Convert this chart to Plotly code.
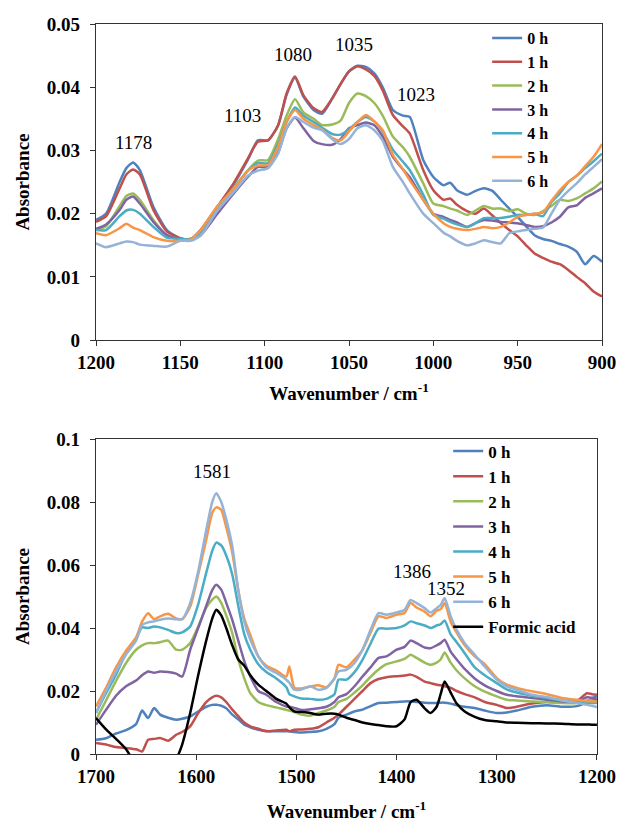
import plotly.graph_objects as go

# ---------------- Top panel data (900-1200 cm-1) ----------------
wn_top = [1200, 1194, 1186, 1182, 1178, 1174, 1166, 1158, 1150, 1144, 1138, 1128, 1118, 1110,
          1104, 1098, 1092, 1087, 1082, 1077, 1071, 1066, 1060, 1055, 1050, 1045, 1040, 1035,
          1030, 1024, 1018, 1014, 1006, 1000, 994, 990, 986, 980, 975, 970, 965, 960, 955, 950,
          945, 940, 935, 930, 925, 920, 915, 910, 905, 900]

top_0h = [0.0190, 0.0200, 0.0250, 0.0272, 0.0281, 0.0269, 0.0211, 0.0174, 0.0161, 0.0159, 0.0174,
          0.0211, 0.0248, 0.0285, 0.0316, 0.0316, 0.0340, 0.0388, 0.0415, 0.0385, 0.0364, 0.0358,
          0.0382, 0.0405, 0.0425, 0.0434, 0.0432, 0.0422, 0.0400, 0.0364, 0.0355, 0.0353, 0.0285,
          0.0258, 0.0245, 0.0249, 0.0237, 0.0230, 0.0236, 0.0240, 0.0236, 0.0222, 0.0208, 0.0195,
          0.0180, 0.0166, 0.0160, 0.0157, 0.0152, 0.0148, 0.0140, 0.0120, 0.0133, 0.0124]
top_1h = [0.0187, 0.0196, 0.0240, 0.0262, 0.0270, 0.0262, 0.0206, 0.0172, 0.0161, 0.0159, 0.0174,
          0.0211, 0.0250, 0.0287, 0.0314, 0.0316, 0.0340, 0.0390, 0.0417, 0.0387, 0.0367, 0.0361,
          0.0382, 0.0405, 0.0425, 0.0433, 0.0428, 0.0418, 0.0395, 0.0356, 0.0338, 0.0327, 0.0269,
          0.0237, 0.0222, 0.0224, 0.0214, 0.0204, 0.0200, 0.0208, 0.0197, 0.0185, 0.0174, 0.0164,
          0.0150, 0.0137, 0.0130, 0.0124, 0.0120, 0.0111, 0.0100, 0.0090, 0.0077, 0.0069]
top_2h = [0.0174, 0.0180, 0.0212, 0.0228, 0.0232, 0.0222, 0.0190, 0.0166, 0.0160, 0.0160, 0.0169,
          0.0208, 0.0242, 0.0268, 0.0284, 0.0285, 0.0318, 0.0355, 0.0381, 0.0360, 0.0350, 0.0340,
          0.0341, 0.0347, 0.0375, 0.0390, 0.0386, 0.0375, 0.0355, 0.0322, 0.0305, 0.0290, 0.0248,
          0.0216, 0.0212, 0.0208, 0.0205, 0.0198, 0.0205, 0.0212, 0.0208, 0.0208, 0.0204, 0.0207,
          0.0200, 0.0198, 0.0204, 0.0212, 0.0222, 0.0220, 0.0224, 0.0232, 0.0240, 0.0251]
top_3h = [0.0176, 0.0183, 0.0206, 0.0222, 0.0227, 0.0216, 0.0187, 0.0166, 0.0160, 0.0160, 0.0166,
          0.0200, 0.0233, 0.0258, 0.0274, 0.0274, 0.0297, 0.0335, 0.0352, 0.0335, 0.0315, 0.0310,
          0.0309, 0.0318, 0.0335, 0.0340, 0.0344, 0.0340, 0.0322, 0.0290, 0.0270, 0.0258, 0.0222,
          0.0200, 0.0195, 0.0190, 0.0186, 0.0179, 0.0185, 0.0190, 0.0189, 0.0187, 0.0186, 0.0185,
          0.0182, 0.0179, 0.0180, 0.0186, 0.0195, 0.0210, 0.0213, 0.0225, 0.0232, 0.0240]
top_4h = [0.0174, 0.0174, 0.0196, 0.0205, 0.0206, 0.0200, 0.0179, 0.0162, 0.0160, 0.0160, 0.0169,
          0.0208, 0.0240, 0.0268, 0.0280, 0.0280, 0.0310, 0.0345, 0.0368, 0.0355, 0.0345, 0.0336,
          0.0326, 0.0325, 0.0333, 0.0345, 0.0353, 0.0346, 0.0330, 0.0301, 0.0282, 0.0269, 0.0230,
          0.0198, 0.0192, 0.0187, 0.0183, 0.0179, 0.0185, 0.0193, 0.0193, 0.0193, 0.0195, 0.0198,
          0.0198, 0.0200, 0.0196, 0.0218, 0.0232, 0.0250, 0.0260, 0.0272, 0.0283, 0.0295]
top_5h = [0.0169, 0.0166, 0.0177, 0.0184, 0.0178, 0.0174, 0.0163, 0.0157, 0.0157, 0.0159, 0.0174,
          0.0212, 0.0240, 0.0268, 0.0276, 0.0277, 0.0306, 0.0345, 0.0364, 0.0350, 0.0340, 0.0333,
          0.0320, 0.0316, 0.0330, 0.0345, 0.0356, 0.0346, 0.0332, 0.0293, 0.0270, 0.0253, 0.0222,
          0.0200, 0.0185, 0.0179, 0.0176, 0.0174, 0.0176, 0.0179, 0.0177, 0.0179, 0.0186, 0.0195,
          0.0198, 0.0200, 0.0202, 0.0220, 0.0237, 0.0250, 0.0260, 0.0275, 0.0290, 0.0310]
top_6h = [0.0153, 0.0147, 0.0153, 0.0156, 0.0155, 0.0151, 0.0149, 0.0148, 0.0157, 0.0157, 0.0165,
          0.0205, 0.0235, 0.0260, 0.0268, 0.0272, 0.0295, 0.0335, 0.0353, 0.0345, 0.0336, 0.0332,
          0.0318, 0.0310, 0.0318, 0.0335, 0.0340, 0.0332, 0.0315, 0.0274, 0.0250, 0.0232, 0.0200,
          0.0185, 0.0170, 0.0164, 0.0157, 0.0150, 0.0153, 0.0158, 0.0155, 0.0153, 0.0169, 0.0172,
          0.0174, 0.0176, 0.0178, 0.0200, 0.0222, 0.0236, 0.0248, 0.0262, 0.0274, 0.0286]

# ---------------- Bottom panel data (1200-1700 cm-1) ----------------
wn_bot = [1700, 1690, 1680, 1670, 1660, 1654, 1648, 1642, 1636, 1628, 1620, 1614, 1606, 1598,
          1590, 1584, 1580, 1575, 1570, 1564, 1558, 1552, 1546, 1538, 1530, 1520, 1510, 1507,
          1502, 1495, 1486, 1478, 1470, 1462, 1458, 1450, 1442, 1434, 1426, 1418, 1410, 1400,
          1392, 1386, 1380, 1372, 1366, 1360, 1356, 1352, 1346, 1340, 1332, 1322, 1312, 1300,
          1290, 1280, 1265, 1250, 1235, 1220, 1210, 1205, 1200]

bot_0h = [0.0045, 0.0050, 0.0065, 0.0076, 0.0095, 0.0138, 0.0114, 0.0146, 0.0125, 0.0115, 0.0109,
          0.0112, 0.0119, 0.0135, 0.0150, 0.0156, 0.0156, 0.0153, 0.0145, 0.0125, 0.0110, 0.0093,
          0.0085, 0.0077, 0.0073, 0.0072, 0.0072, 0.0072, 0.0070, 0.0068, 0.0070, 0.0072, 0.0080,
          0.0095, 0.0115, 0.0125, 0.0135, 0.0141, 0.0152, 0.0162, 0.0163, 0.0165, 0.0167, 0.0167,
          0.0165, 0.0163, 0.0162, 0.0162, 0.0163, 0.0163, 0.0160, 0.0155, 0.0150, 0.0146, 0.0138,
          0.0130, 0.0132, 0.0138, 0.0150, 0.0155, 0.0150, 0.0152, 0.0165, 0.0178, 0.0183]
bot_1h = [0.0035, 0.0030, 0.0022, 0.0019, 0.0015, 0.0008, 0.0045, 0.0048, 0.0051, 0.0042, 0.0061,
          0.0070, 0.0088, 0.0130, 0.0165, 0.0180, 0.0185, 0.0180, 0.0165, 0.0141, 0.0120, 0.0100,
          0.0088, 0.0080, 0.0072, 0.0075, 0.0077, 0.0072, 0.0077, 0.0078, 0.0080, 0.0085, 0.0100,
          0.0115, 0.0125, 0.0150, 0.0175, 0.0200, 0.0225, 0.0238, 0.0244, 0.0247, 0.0249, 0.0252,
          0.0245, 0.0230, 0.0225, 0.0220, 0.0218, 0.0215, 0.0210, 0.0200, 0.0190, 0.0180, 0.0165,
          0.0156, 0.0146, 0.0150, 0.0160, 0.0165, 0.0163, 0.0168, 0.0193, 0.0190, 0.0188]
bot_2h = [0.0109, 0.0170, 0.0232, 0.0289, 0.0331, 0.0345, 0.0352, 0.0352, 0.0355, 0.0360, 0.0331,
          0.0331, 0.0352, 0.0405, 0.0465, 0.0490, 0.0500, 0.0480, 0.0440, 0.0384, 0.0300, 0.0240,
          0.0193, 0.0165, 0.0155, 0.0148, 0.0140, 0.0138, 0.0133, 0.0125, 0.0122, 0.0130, 0.0138,
          0.0150, 0.0165, 0.0175, 0.0195, 0.0218, 0.0245, 0.0268, 0.0285, 0.0294, 0.0302, 0.0315,
          0.0305, 0.0290, 0.0283, 0.0290, 0.0300, 0.0322, 0.0290, 0.0265, 0.0240, 0.0215, 0.0198,
          0.0183, 0.0172, 0.0170, 0.0167, 0.0165, 0.0162, 0.0162, 0.0170, 0.0172, 0.0175]
bot_3h = [0.0093, 0.0140, 0.0185, 0.0215, 0.0233, 0.0250, 0.0262, 0.0258, 0.0262, 0.0260, 0.0255,
          0.0246, 0.0331, 0.0400, 0.0470, 0.0520, 0.0537, 0.0522, 0.0480, 0.0426, 0.0360, 0.0295,
          0.0246, 0.0200, 0.0188, 0.0165, 0.0151, 0.0150, 0.0146, 0.0140, 0.0142, 0.0145, 0.0150,
          0.0165, 0.0180, 0.0190, 0.0215, 0.0246, 0.0275, 0.0305, 0.0310, 0.0331, 0.0340, 0.0360,
          0.0352, 0.0338, 0.0336, 0.0345, 0.0352, 0.0363, 0.0325, 0.0300, 0.0270, 0.0240, 0.0218,
          0.0200, 0.0188, 0.0183, 0.0178, 0.0172, 0.0167, 0.0166, 0.0180, 0.0178, 0.0172]
bot_4h = [0.0130, 0.0193, 0.0252, 0.0320, 0.0366, 0.0402, 0.0400, 0.0405, 0.0402, 0.0394, 0.0384,
          0.0386, 0.0405, 0.0475, 0.0575, 0.0645, 0.0671, 0.0662, 0.0630, 0.0570, 0.0470, 0.0380,
          0.0331, 0.0285, 0.0260, 0.0240, 0.0212, 0.0190, 0.0183, 0.0176, 0.0175, 0.0172, 0.0175,
          0.0190, 0.0236, 0.0236, 0.0260, 0.0299, 0.0350, 0.0398, 0.0398, 0.0400, 0.0408, 0.0421,
          0.0415, 0.0408, 0.0400, 0.0408, 0.0412, 0.0424, 0.0380, 0.0355, 0.0320, 0.0275, 0.0250,
          0.0225, 0.0205, 0.0195, 0.0185, 0.0178, 0.0170, 0.0165, 0.0162, 0.0162, 0.0162]
bot_5h = [0.0151, 0.0210, 0.0275, 0.0328, 0.0370, 0.0420, 0.0447, 0.0428, 0.0437, 0.0445, 0.0430,
          0.0428, 0.0468, 0.0570, 0.0680, 0.0765, 0.0783, 0.0775, 0.0720, 0.0640, 0.0520, 0.0430,
          0.0378, 0.0310, 0.0280, 0.0265, 0.0246, 0.0278, 0.0210, 0.0208, 0.0214, 0.0218, 0.0212,
          0.0240, 0.0283, 0.0275, 0.0300, 0.0330, 0.0385, 0.0437, 0.0432, 0.0442, 0.0448, 0.0479,
          0.0465, 0.0452, 0.0437, 0.0455, 0.0460, 0.0479, 0.0420, 0.0385, 0.0345, 0.0310, 0.0285,
          0.0241, 0.0220, 0.0210, 0.0199, 0.0190, 0.0178, 0.0172, 0.0168, 0.0167, 0.0167]
bot_6h = [0.0130, 0.0200, 0.0262, 0.0316, 0.0360, 0.0410, 0.0418, 0.0421, 0.0426, 0.0430, 0.0428,
          0.0428, 0.0479, 0.0580, 0.0710, 0.0800, 0.0828, 0.0800, 0.0745, 0.0660, 0.0520, 0.0420,
          0.0363, 0.0310, 0.0275, 0.0257, 0.0236, 0.0226, 0.0204, 0.0205, 0.0215, 0.0204, 0.0210,
          0.0240, 0.0262, 0.0267, 0.0289, 0.0331, 0.0394, 0.0447, 0.0442, 0.0449, 0.0458, 0.0489,
          0.0479, 0.0463, 0.0449, 0.0463, 0.0473, 0.0495, 0.0437, 0.0394, 0.0352, 0.0315, 0.0278,
          0.0236, 0.0215, 0.0204, 0.0188, 0.0181, 0.0170, 0.0162, 0.0156, 0.0153, 0.0149]
bot_formic = [0.0114, 0.0078, 0.0048, 0.0015, -0.0040, -0.0080, -0.0120, -0.0120, -0.0120, -0.0080,
              -0.0020, 0.0030, 0.0130, 0.0250, 0.0360, 0.0430, 0.0458, 0.0440, 0.0400, 0.0345,
              0.0300, 0.0280, 0.0250, 0.0220, 0.0200, 0.0175, 0.0160, 0.0148, 0.0135, 0.0133,
              0.0130, 0.0125, 0.0128, 0.0128, 0.0125, 0.0115, 0.0108, 0.0100, 0.0095, 0.0092,
              0.0088, 0.0088, 0.0110, 0.0165, 0.0172, 0.0145, 0.0130, 0.0150, 0.0190, 0.0230,
              0.0195, 0.0160, 0.0135, 0.0118, 0.0108, 0.0104, 0.0100, 0.0099, 0.0098, 0.0097,
              0.0096, 0.0094, 0.0094, 0.0093, 0.0093]

series_names = ["0 h", "1 h", "2 h", "3 h", "4 h", "5 h", "6 h"]
series_colors = ["#4F81BD", "#C0504D", "#9BBB59", "#8064A2", "#4BACC6", "#F79646", "#95B3D7"]
top_series = [top_0h, top_1h, top_2h, top_3h, top_4h, top_5h, top_6h]
bot_series = [bot_0h, bot_1h, bot_2h, bot_3h, bot_4h, bot_5h, bot_6h]

top_peak_labels = ["1178", "1103", "1080", "1035", "1023"]
top_peak_x = [1178, 1113, 1083, 1047, 1010]
top_peak_y = [0.0312, 0.0356, 0.0451, 0.0467, 0.0388]
bot_peak_labels = ["1581", "1386", "1352"]
bot_peak_x = [1584, 1385, 1351]
bot_peak_y = [0.0896, 0.0579, 0.0526]

FONT = "Liberation Serif"
fig = go.Figure()

for name, col, ys in zip(series_names, series_colors, top_series):
    fig.add_trace(go.Scatter(x=wn_top, y=ys, name=name, mode="lines",
                             line=dict(color=col, width=2.5, shape="spline", smoothing=0.6),
                             xaxis="x", yaxis="y", legend="legend"))
for name, col, ys in zip(series_names, series_colors, bot_series):
    fig.add_trace(go.Scatter(x=wn_bot, y=ys, name=name, mode="lines",
                             line=dict(color=col, width=2.5, shape="spline", smoothing=0.6),
                             xaxis="x2", yaxis="y2", legend="legend2"))
fig.add_trace(go.Scatter(x=wn_bot, y=bot_formic, name="Formic acid", mode="lines",
                         line=dict(color="#000000", width=2.5, shape="spline", smoothing=0.6),
                         xaxis="x2", yaxis="y2", legend="legend2"))

for t, xv, yv in zip(top_peak_labels, top_peak_x, top_peak_y):
    fig.add_annotation(x=xv, y=yv, xref="x", yref="y", text=t, showarrow=False,
                       font=dict(family=FONT, size=19, color="#000"))
for t, xv, yv in zip(bot_peak_labels, bot_peak_x, bot_peak_y):
    fig.add_annotation(x=xv, y=yv, xref="x2", yref="y2", text=t, showarrow=False,
                       font=dict(family=FONT, size=19, color="#000"))

axis_common = dict(showline=True, linecolor="#333", linewidth=1.2, mirror=True, ticks="outside",
                   ticklen=5, tickcolor="#333", showgrid=False, zeroline=False, automargin=False,
                   ticklabeloverflow="allow",
                   tickfont=dict(family=FONT, size=19, color="#000", weight="bold"))
title_font = dict(family=FONT, size=19, color="#000", weight="bold")

fig.update_layout(
    width=619, height=822,
    margin=dict(l=96, r=17, t=24, b=68),
    paper_bgcolor="white", plot_bgcolor="white",
    showlegend=True,
    xaxis=dict(domain=[0, 1], range=[1200, 900], dtick=50, anchor="y",
               title=dict(text="Wavenumber / cm<sup>-1</sup>", font=title_font, standoff=14),
               **axis_common),
    yaxis=dict(domain=[0.567, 1.0], range=[0, 0.05], dtick=0.01, anchor="x", ticklabelstandoff=6,
               title=dict(text="Absorbance", font=title_font, standoff=12), **axis_common),
    xaxis2=dict(domain=[0, 0.990], range=[1700, 1200], dtick=100, anchor="y2",
                title=dict(text="Wavenumber / cm<sup>-1</sup>", font=title_font, standoff=20),
                **axis_common),
    yaxis2=dict(domain=[0, 0.4315], range=[0, 0.1], dtick=0.02, anchor="x2", ticklabelstandoff=6,
                title=dict(text="Absorbance", font=title_font, standoff=12), **axis_common),
    legend=dict(x=0.773, y=1.004, xanchor="left", yanchor="top", bgcolor="rgba(0,0,0,0)",
                font=dict(family=FONT, size=16, color="#000", weight="bold"), itemwidth=30),
    legend2=dict(x=0.696, y=0.439, xanchor="left", yanchor="top", bgcolor="rgba(0,0,0,0)",
                 font=dict(family=FONT, size=17, color="#000", weight="bold"), itemwidth=30),
)

# Remove the default 8 px page margin so the 619x822 figure fills the window exactly.
fig.write_html("out.html", config={"displayModeBar": False},
               post_script="document.body.style.margin='0';")
